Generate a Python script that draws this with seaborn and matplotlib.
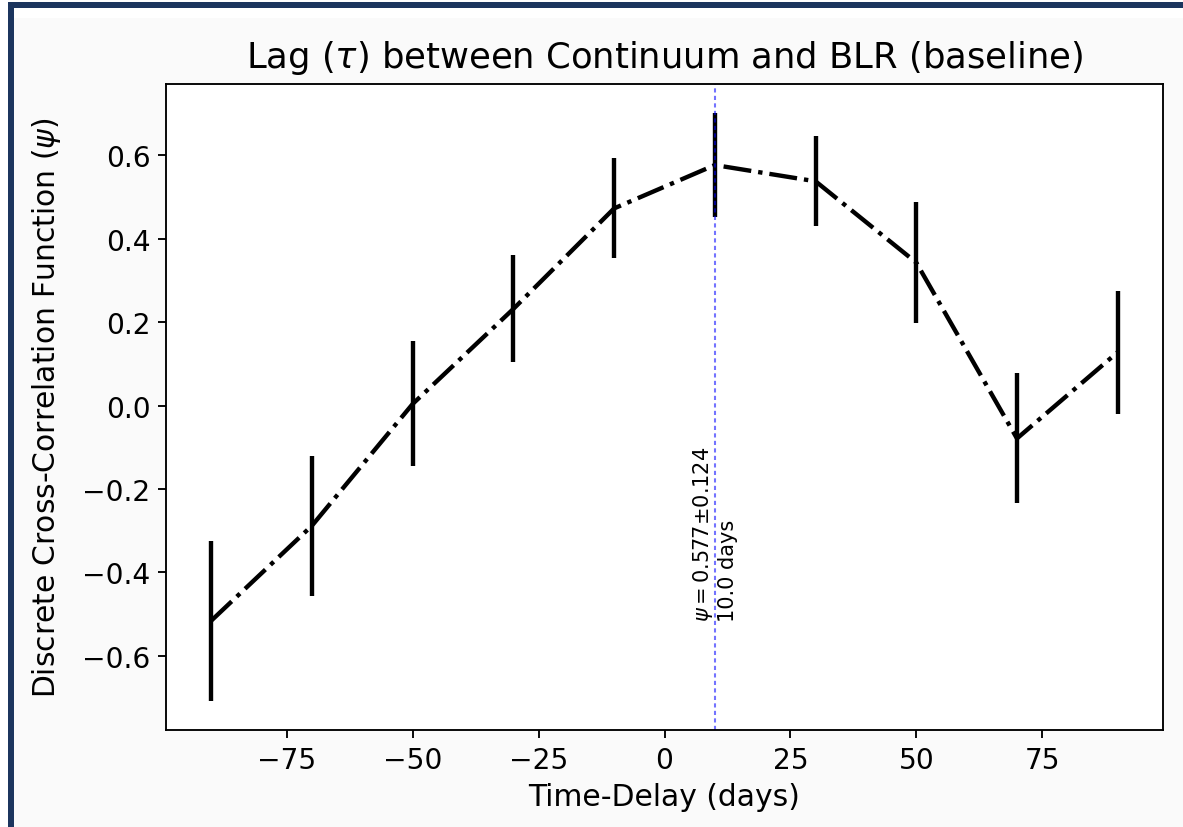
import numpy as np
import pandas as pd
import matplotlib
matplotlib.use("Agg")
import matplotlib.pyplot as plt
import seaborn as sns
from matplotlib.patches import Rectangle

# ---- data ----
lags = [-90, -70, -50, -30, -10, 10, 30, 50, 70, 90]
dcf = [-0.516, -0.288, 0.004, 0.232, 0.473, 0.577, 0.538, 0.343, -0.079, 0.128]
dcf_err = [0.192, 0.168, 0.150, 0.128, 0.120, 0.124, 0.108, 0.146, 0.156, 0.148]
peak_lag = 10.0
peak_val = 0.577
peak_err = 0.124

title = r"Lag ($\tau$) between Continuum and BLR (baseline)"
xlabel = "Time-Delay (days)"
ylabel = r"Discrete Cross-Correlation Function ($\psi$)"

df = pd.DataFrame({"lag": lags, "dcf": dcf, "err": dcf_err})

sns.set_style("ticks")
plt.rcParams["font.family"] = ["DejaVu Sans"]
plt.rcParams["axes.edgecolor"] = "black"
plt.rcParams["text.color"] = "black"
plt.rcParams["axes.labelcolor"] = "black"
plt.rcParams["xtick.color"] = "black"
plt.rcParams["ytick.color"] = "black"

fig = plt.figure(figsize=(1183 / 150, 828 / 150), dpi=150, facecolor="#fafafa")
ax = fig.add_axes([166 / 1183, 1 - 731 / 828, (1163 - 166) / 1183, (731 - 85) / 828])
ax.set_facecolor("white")

sns.lineplot(data=df, x="lag", y="dcf", ax=ax, color="black", linestyle="-.",
             linewidth=2.1, estimator=None, errorbar=None)
ax.errorbar(df["lag"], df["dcf"], yerr=df["err"], fmt="none", ecolor="black",
            elinewidth=2.1, capsize=0)

ax.axvline(peak_lag, color="blue", linestyle=(0, (2, 1.6)), linewidth=1, alpha=0.55)
ax.text(peak_lag, min(dcf),
        r"$\psi = $" + f"{peak_val:.3f}\u00b1{peak_err:.3f}" + "\n" + f"{peak_lag:.1f} days",
        rotation=90, ha="center", va="bottom", multialignment="left", fontsize=10)

for s in ax.spines.values():
    s.set_visible(True)
    s.set_linewidth(0.9)

ax.set_xticks([-75, -50, -25, 0, 25, 50, 75])
ax.set_yticks([-0.6, -0.4, -0.2, 0.0, 0.2, 0.4, 0.6])
ax.tick_params(labelsize=13.5, length=4, width=0.9)
ax.set_xlabel(xlabel, fontsize=14.3, labelpad=4)
ax.set_ylabel(ylabel, fontsize=14.3, labelpad=9)
ax.set_title(title, fontsize=17, pad=8)

# frame border (navy) along top and left, with white inner band
W, H = 1183, 828
fig.add_artist(Rectangle((14 / W, 1 - 19 / H), 1 - 14 / W, 10 / H, transform=fig.transFigure,
                         facecolor="white", edgecolor="none", zorder=-4))
fig.add_artist(Rectangle((0, 1 - 3 / H), 1, 3 / H, transform=fig.transFigure,
                         facecolor="white", edgecolor="none", zorder=-4))
fig.add_artist(Rectangle((0, 0), 8 / W, 1, transform=fig.transFigure,
                         facecolor="white", edgecolor="none", zorder=-4))
fig.add_artist(Rectangle((8 / W, 0), 6 / W, 1 - 3 / H, transform=fig.transFigure,
                         facecolor="#1c355e", edgecolor="none", zorder=10))
fig.add_artist(Rectangle((8 / W, 1 - 9 / H), 1 - 8 / W, 6 / H, transform=fig.transFigure,
                         facecolor="#1c355e", edgecolor="none", zorder=10))

fig.savefig("out.png", dpi=150, facecolor=fig.get_facecolor())
